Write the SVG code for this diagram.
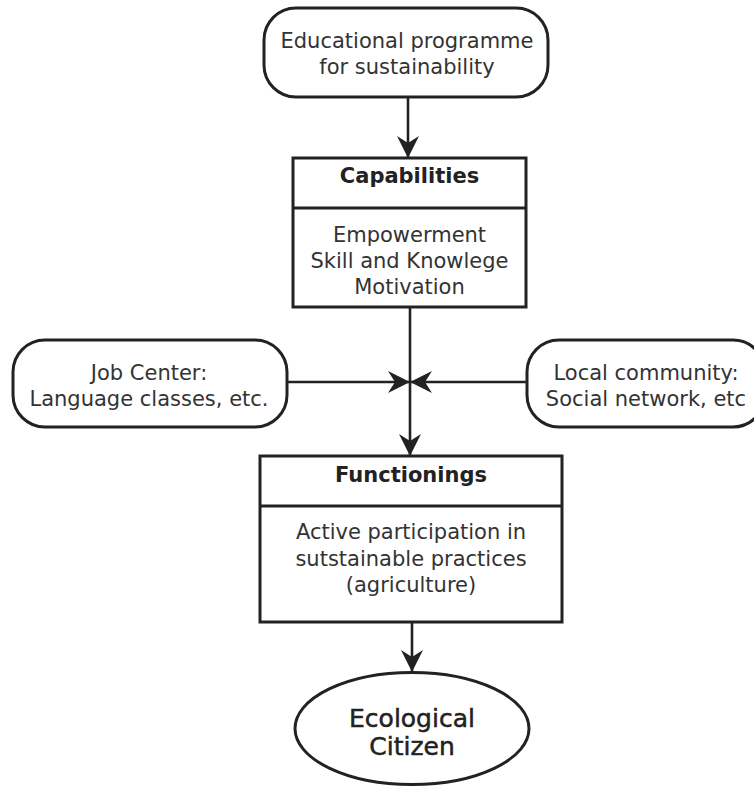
<svg xmlns="http://www.w3.org/2000/svg" width="754" height="786" viewBox="0 0 754 786">
<defs>
<style>
.box{fill:#fff;stroke:#222;stroke-width:3}
.con{fill:none;stroke:#222;stroke-width:2.6}
.t{font-family:"DejaVu Sans",Verdana,sans-serif;font-size:21px;fill:#333;text-anchor:middle}
.b{font-family:"DejaVu Sans",Verdana,sans-serif;font-size:21px;font-weight:bold;fill:#222;text-anchor:middle}
.e{font-family:"DejaVu Sans",Verdana,sans-serif;font-size:25px;fill:#222;stroke:#222;stroke-width:0.5;text-anchor:middle}
</style>
<marker id="ah" markerUnits="userSpaceOnUse" viewBox="0 -11 22 22" refX="22" refY="0" markerWidth="22" markerHeight="22" orient="auto">
<path d="M22,0 L0,-11 L7,0 L0,11 Z" fill="#222"/>
</marker>
</defs>
<rect width="754" height="786" fill="#fff"/>
<g id="connectors">
<line class="con" x1="408" y1="97" x2="408" y2="158" marker-end="url(#ah)"/>
<line class="con" x1="410" y1="307" x2="410" y2="456" marker-end="url(#ah)"/>
<line class="con" x1="287" y1="382" x2="410" y2="382" marker-end="url(#ah)"/>
<line class="con" x1="527" y1="382" x2="410" y2="382" marker-end="url(#ah)"/>
<line class="con" x1="412" y1="622" x2="412" y2="672" marker-end="url(#ah)"/>
</g>
<g id="programme">
<rect class="box" x="264" y="8" width="284" height="89" rx="32" ry="32"/>
<text class="t" x="407" y="48">Educational programme</text>
<text class="t" x="407" y="74">for sustainability</text>
</g>
<g id="capabilities">
<rect class="box" x="293" y="158" width="233" height="149"/>
<line class="box" x1="293" y1="208" x2="526" y2="208"/>
<text class="b" x="409.5" y="183">Capabilities</text>
<text class="t" x="409.5" y="242">Empowerment</text>
<text class="t" x="409.5" y="268">Skill and Knowlege</text>
<text class="t" x="409.5" y="294">Motivation</text>
</g>
<g id="jobcenter">
<rect class="box" x="13" y="340" width="274" height="87" rx="32" ry="32"/>
<text class="t" x="149" y="380">Job Center:</text>
<text class="t" x="149" y="406">Language classes, etc.</text>
</g>
<g id="community">
<rect class="box" x="527" y="340" width="238" height="87" rx="32" ry="32"/>
<text class="t" x="646" y="380">Local community:</text>
<text class="t" x="646" y="406">Social network, etc</text>
</g>
<g id="functionings">
<rect class="box" x="260" y="456" width="302" height="166"/>
<line class="box" x1="260" y1="506" x2="562" y2="506"/>
<text class="b" x="411" y="482">Functionings</text>
<text class="t" x="411" y="539">Active participation in</text>
<text class="t" x="411" y="566">sutstainable practices</text>
<text class="t" x="411" y="592">(agriculture)</text>
</g>
<g id="citizen">
<ellipse class="box" cx="412" cy="728.5" rx="117" ry="56"/>
<text class="e" x="412" y="727">Ecological</text>
<text class="e" x="412" y="755">Citizen</text>
</g>
</svg>
